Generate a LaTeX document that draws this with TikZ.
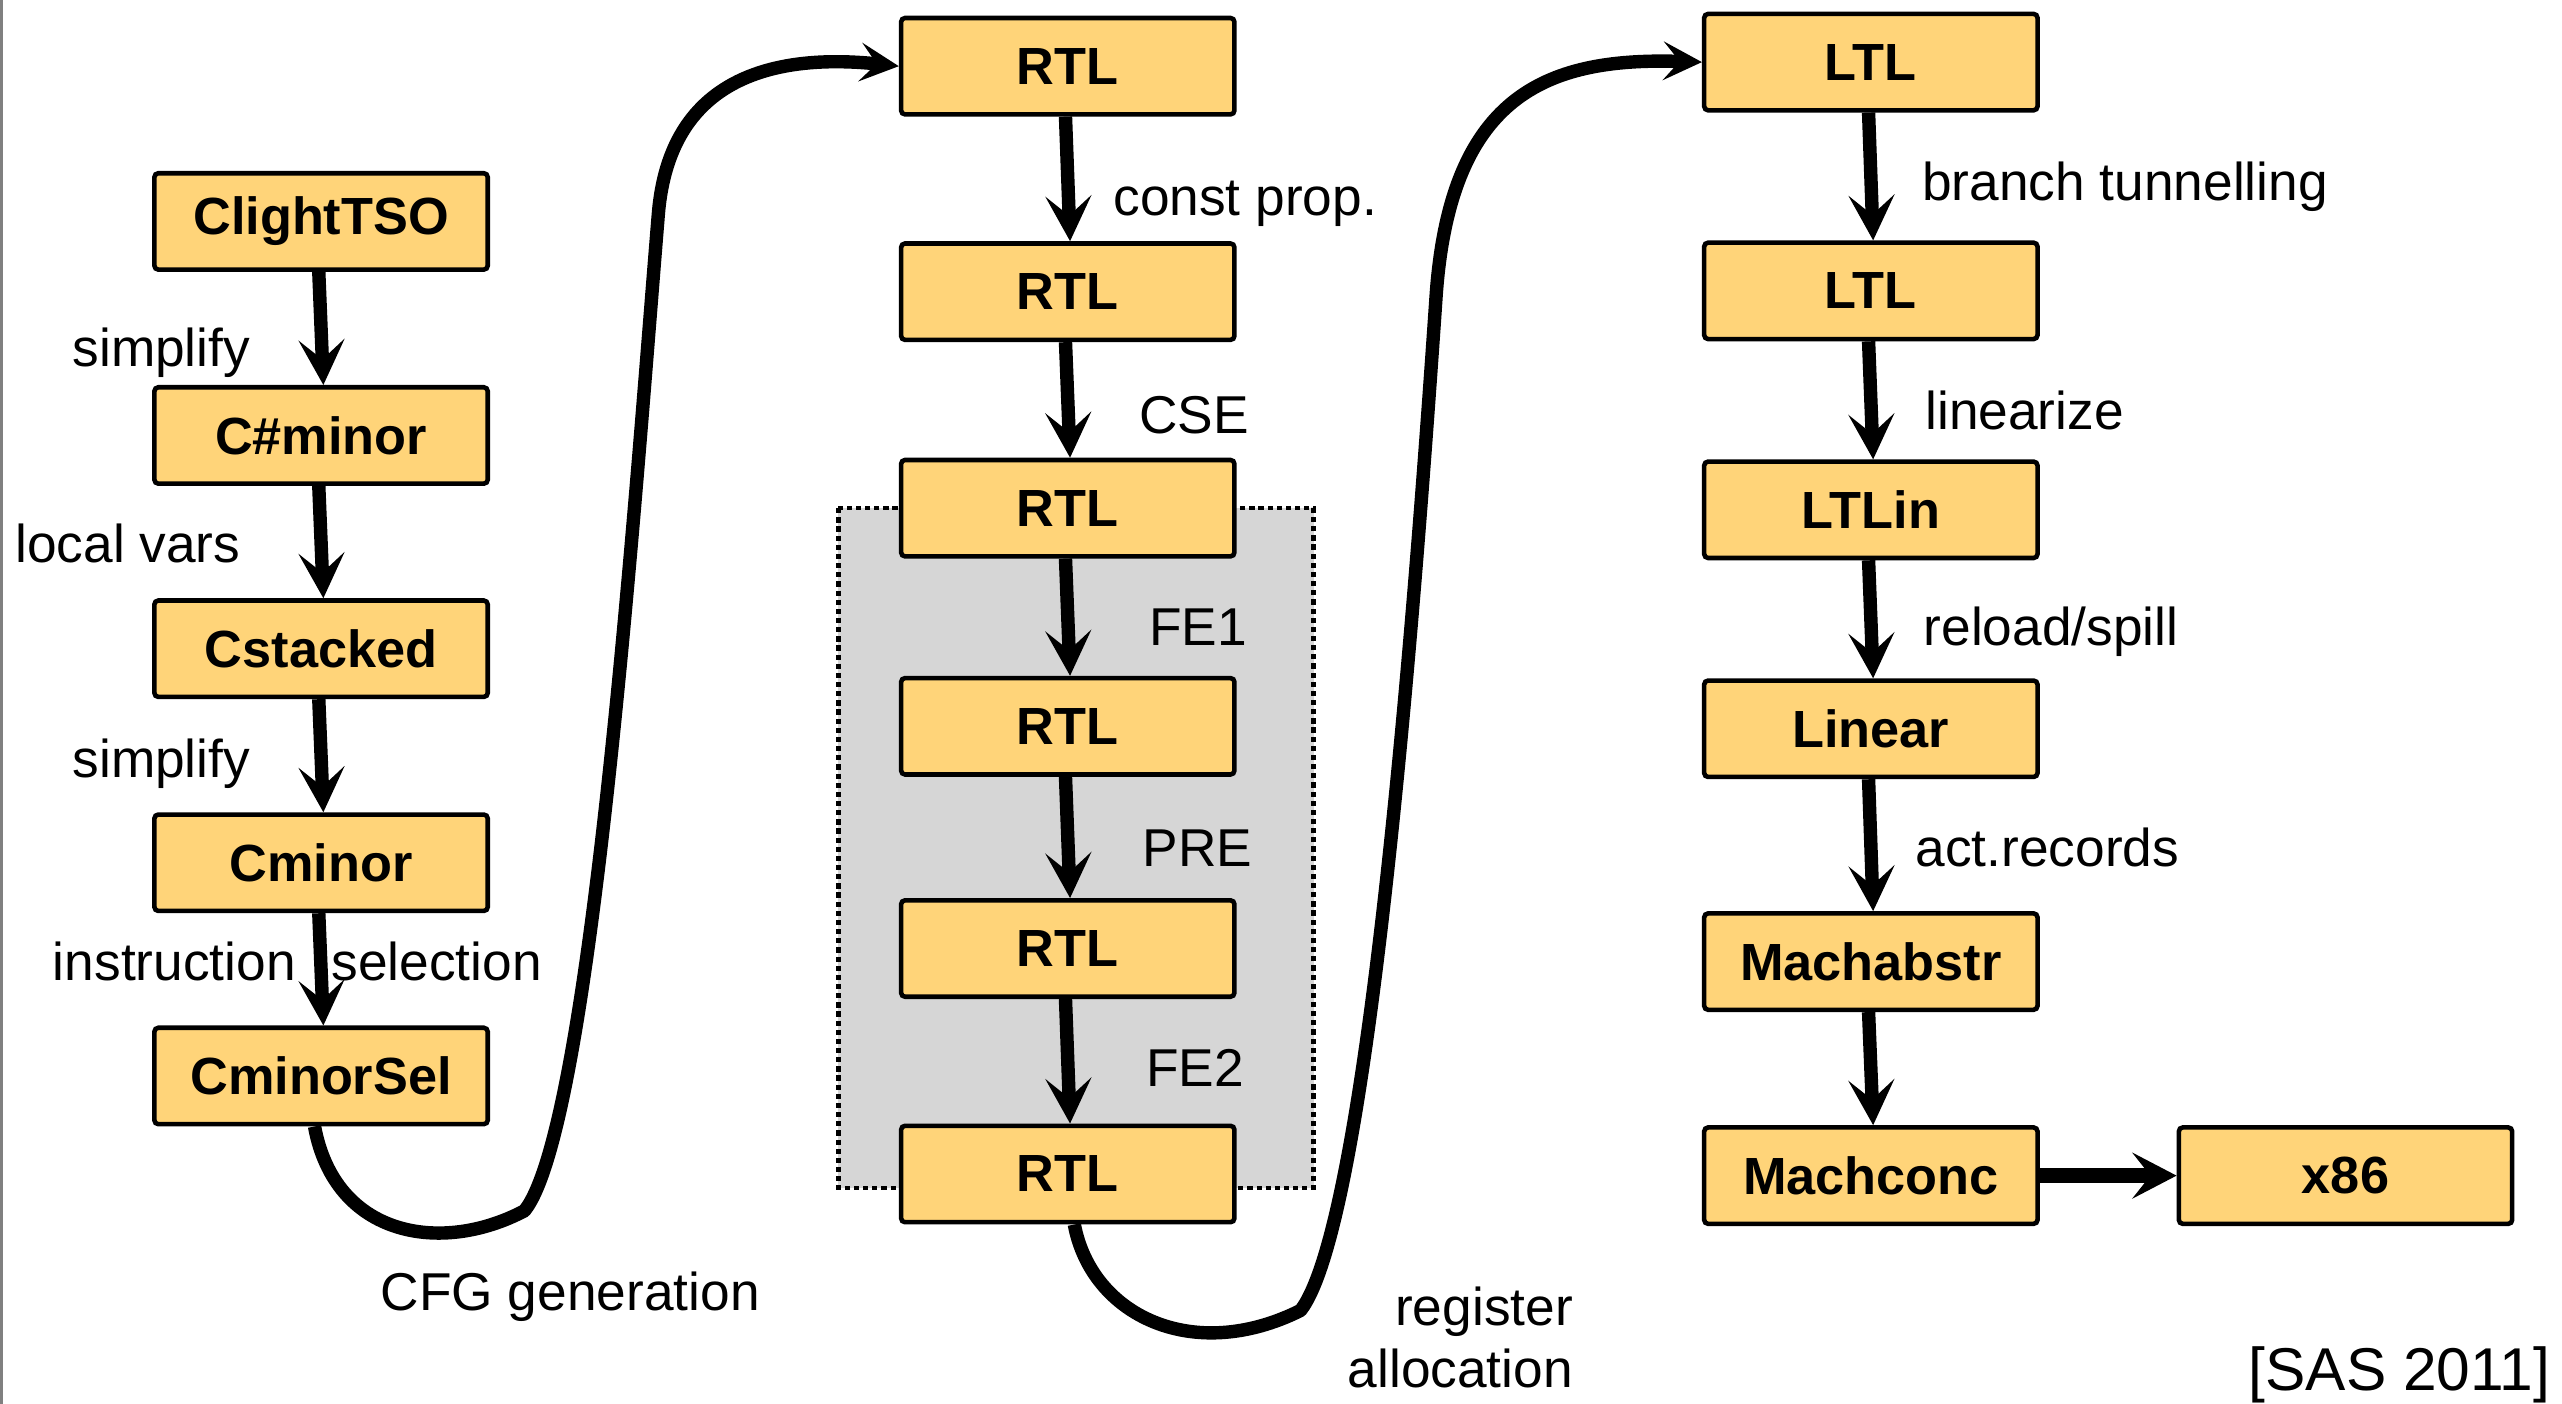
\documentclass[tikz,border=0pt]{standalone}
\usepackage{fontspec}
\setmainfont{Liberation Sans}
\usetikzlibrary{arrows.meta}
\definecolor{boxfill}{HTML}{FFD479}
\definecolor{regfill}{HTML}{D6D6D6}
\begin{document}
\begin{tikzpicture}[x=0.5pt,y=-0.5pt,
  stage/.style={draw=black, line width=1.4pt, rounded corners=1.2pt, fill=boxfill, minimum width=102pt, minimum height=29.5pt, inner sep=0pt, font=\fontsize{16}{19}\selectfont\bfseries},
  lbl/.style={font=\fontsize{16.3}{19}\selectfont, inner sep=0pt, anchor=base west},
  flow/.style={line width=4.1pt, -{Stealth[length=13.8pt,width=14pt,inset=6pt]}},
  hflow/.style={line width=4.6pt, -{Stealth[length=13.5pt,width=14pt,inset=5.5pt]}},
  bendarrow/.style={line width=4.1pt, line join=round, -{Stealth[length=11.8pt,width=11.8pt,inset=5pt]}},
  region/.style={fill=regfill, draw=black, line width=1.4pt, dash pattern=on 1.6pt off 1.2pt},
]
\useasboundingbox (0,0) rectangle (1568,859);
\fill[white] (0,0) rectangle (1568,859);
\draw[gray, line width=0.8pt] (0.8,0) -- (0.8,859);

% grey region
\draw[region] (513,311) rectangle (804,727);

% left column
\node[stage] (clight) at (196.5,135.5) {ClightTSO};
\node[stage] (csharp) at (196.5,266.5) {C\#minor};
\node[stage] (cstack) at (196.5,397) {Cstacked};
\node[stage] (cminor) at (196.5,528) {Cminor};
\node[stage] (csel) at (196.5,658.5) {CminorSel};

% middle column
\node[stage] (rtl1) at (653.5,40.5) {RTL};
\node[stage] (rtl2) at (653.5,178.5) {RTL};
\node[stage] (rtl3) at (653.5,311) {RTL};
\node[stage] (rtl4) at (653.5,444.5) {RTL};
\node[stage] (rtl5) at (653.5,580.5) {RTL};
\node[stage] (rtl6) at (653.5,718.5) {RTL};

% right column
\node[stage] (ltl1) at (1145,38) {LTL};
\node[stage] (ltl2) at (1145,178) {LTL};
\node[stage] (ltlin) at (1145,312) {LTLin};
\node[stage] (linear) at (1145,446) {Linear};
\node[stage] (mabs) at (1145,588.5) {Machabstr};
\node[stage] (mconc) at (1145,719.5) {Machconc};
\node[stage] (x86) at (1435.5,719.5) {x86};

% straight arrows
\draw[flow] ([xshift=-0.7pt]clight.south) -- ([xshift=0.7pt]csharp.north);
\draw[flow] ([xshift=-0.7pt]csharp.south) -- ([xshift=0.7pt]cstack.north);
\draw[flow] ([xshift=-0.7pt]cstack.south) -- ([xshift=0.7pt]cminor.north);
\draw[flow] ([xshift=-0.7pt]cminor.south) -- ([xshift=0.7pt]csel.north);
\draw[flow] ([xshift=-0.7pt]rtl1.south) -- ([xshift=0.7pt]rtl2.north);
\draw[flow] ([xshift=-0.7pt]rtl2.south) -- ([xshift=0.7pt]rtl3.north);
\draw[flow] ([xshift=-0.7pt]rtl3.south) -- ([xshift=0.7pt]rtl4.north);
\draw[flow] ([xshift=-0.7pt]rtl4.south) -- ([xshift=0.7pt]rtl5.north);
\draw[flow] ([xshift=-0.7pt]rtl5.south) -- ([xshift=0.7pt]rtl6.north);
\draw[flow] ([xshift=-0.7pt]ltl1.south) -- ([xshift=0.7pt]ltl2.north);
\draw[flow] ([xshift=-0.7pt]ltl2.south) -- ([xshift=0.7pt]ltlin.north);
\draw[flow] ([xshift=-0.7pt]ltlin.south) -- ([xshift=0.7pt]linear.north);
\draw[flow] ([xshift=-0.7pt]linear.south) -- ([xshift=0.7pt]mabs.north);
\draw[flow] ([xshift=-0.7pt]mabs.south) -- ([xshift=0.7pt]mconc.north);
\draw[hflow] (mconc.east) -- (x86.west);

% curved arrows
\draw[bendarrow] ([xshift=-2pt]csel.south) .. controls (205,757) and (270,768) .. (321,741)
  .. controls (362,690) and (389,300) .. (403,130)
  .. controls (410,50) and (470,32) .. (rtl1.west);
\draw[bendarrow] ([xshift=2pt]rtl6.south) .. controls (668,805) and (730,835) .. (796,802)
  .. controls (836,750) and (864,400) .. (879,180)
  .. controls (888,55) and (950,35) .. (ltl1.west);

% labels
\node[lbl] (t1) at (44,224) {simplify};
\node[lbl] (t2) at (9,344) {local vars};
\node[lbl] (t3) at (44,476) {simplify};
\node[lbl] (t4) at (32,600) {instruction};
\node[lbl, anchor=base east] (t5) at (332,600) {selection};
\node[lbl, anchor=base] (t6) at (349,802) {CFG generation};
\node[lbl] (t7) at (681,132) {const prop.};
\node[lbl] (t8) at (697,265) {CSE};
\node[lbl] (t9) at (703,395) {FE1};
\node[lbl] (t10) at (699,530) {PRE};
\node[lbl] (t11) at (701,665) {FE2};
\node[lbl, anchor=base east] (t12) at (963,811) {register};
\node[lbl, anchor=base east] (t13) at (963,849) {allocation};
\node[lbl] (t14) at (1176,123) {branch tunnelling};
\node[lbl] (t15) at (1178,263) {linearize};
\node[lbl] (t16) at (1177,395) {reload/spill};
\node[lbl] (t17) at (1172,530) {act.records};
\node[lbl, anchor=base east, font=\fontsize{18.5}{22}\selectfont] (t18) at (1561,851) {[SAS 2011]};
\end{tikzpicture}
\end{document}
